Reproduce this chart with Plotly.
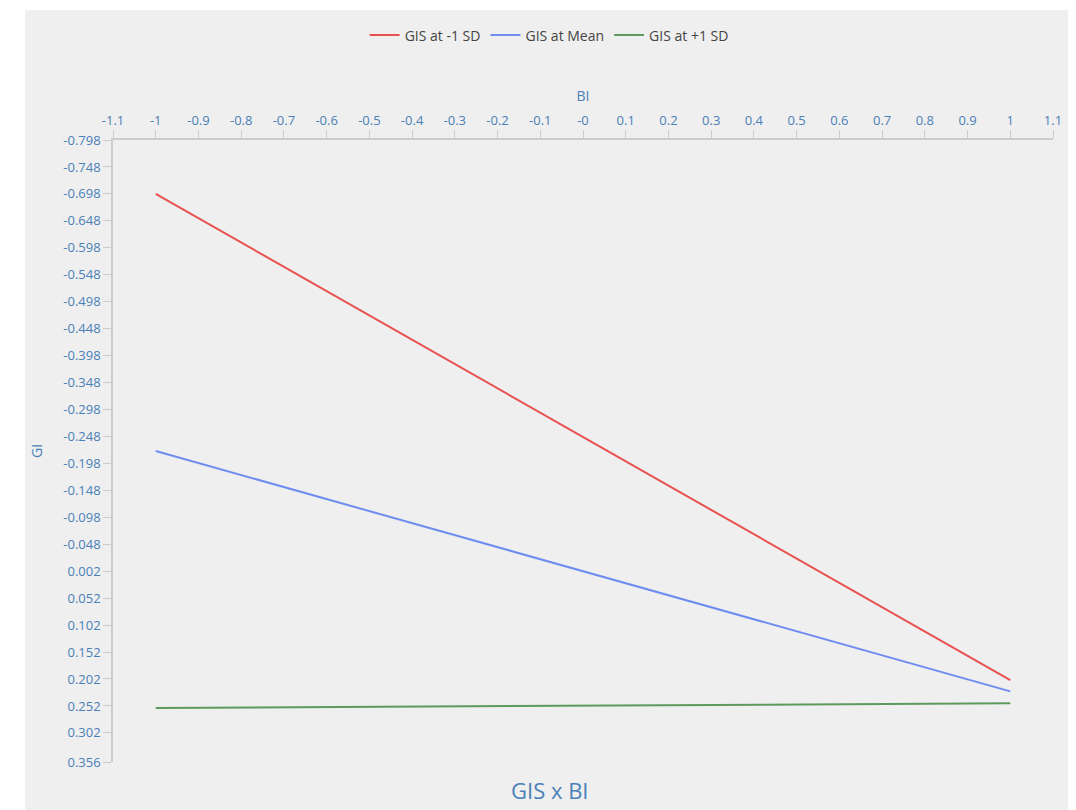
import plotly.graph_objects as go

# Data
bi_values = [-1, 1]
gi_minus_sd = [-0.698, 0.204]
gi_mean = [-0.221, 0.225]
gi_plus_sd = [0.256, 0.247]
series_names = ["GIS at -1 SD", "GIS at Mean", "GIS at +1 SD"]
series_colors = ["#e8514f", "#6f8df0", "#5e9a5e"]

x_tick_vals = [round(-1.1 + 0.1 * i, 1) for i in range(23)]
x_tick_text = ["-1.1", "-1", "-0.9", "-0.8", "-0.7", "-0.6", "-0.5", "-0.4", "-0.3", "-0.2", "-0.1",
               "-0", "0.1", "0.2", "0.3", "0.4", "0.5", "0.6", "0.7", "0.8", "0.9", "1", "1.1"]
y_tick_vals = [round(-0.798 + 0.05 * i, 3) for i in range(23)] + [0.356]
y_tick_text = ["-0.798", "-0.748", "-0.698", "-0.648", "-0.598", "-0.548", "-0.498", "-0.448",
               "-0.398", "-0.348", "-0.298", "-0.248", "-0.198", "-0.148", "-0.098", "-0.048",
               "0.002", "0.052", "0.102", "0.152", "0.202", "0.252", "0.302", "0.356"]

fig = go.Figure()
for name, ys, col in zip(series_names, [gi_minus_sd, gi_mean, gi_plus_sd], series_colors):
    fig.add_trace(go.Scatter(x=bi_values, y=ys, mode="lines", name=name,
                             line=dict(color=col, width=2)))

axis_blue = "#4a80b8"
fig.update_layout(
    width=1068, height=802,
    paper_bgcolor="white",
    plot_bgcolor="#efefef",
    margin=dict(l=105, r=23, t=132, b=48),
    font=dict(family="Open Sans, sans-serif"),
    showlegend=True,
    legend=dict(orientation="h", x=0.464, xanchor="center", y=1.168, yanchor="middle",
                font=dict(size=14, color="#444"), bgcolor="rgba(0,0,0,0)"),
    shapes=[dict(type="rect", xref="paper", yref="paper", x0=-0.0936, x1=1.03, y0=-0.08, y1=1.209,
                 fillcolor="#efefef", line=dict(width=0), layer="below")],
    annotations=[dict(text="GIS x BI", x=0.465, y=-0.045, xref="paper", yref="paper",
                      xanchor="center", yanchor="middle", showarrow=False,
                      font=dict(size=22, color=axis_blue))],
)

fig.update_xaxes(
    side="top", range=[-1.1, 1.1], tickvals=x_tick_vals, ticktext=x_tick_text,
    showgrid=False, zeroline=False, showline=True, linecolor="#cccccc", linewidth=1.5,
    ticks="outside", ticklen=8, tickcolor="#cccccc", automargin=False,
    tickfont=dict(size=13, color=axis_blue),
    title=dict(text="BI", font=dict(size=14, color=axis_blue), standoff=6),
)
fig.update_yaxes(
    range=[0.356, -0.798], tickvals=y_tick_vals, ticktext=y_tick_text,
    showgrid=False, zeroline=False, showline=True, linecolor="#cccccc", linewidth=1.5,
    ticks="outside", ticklen=8, tickcolor="#cccccc", automargin=False,
    tickfont=dict(size=13, color=axis_blue),
    title=dict(text="GI", font=dict(size=14, color=axis_blue), standoff=17),
)

fig.write_html("out.html")
